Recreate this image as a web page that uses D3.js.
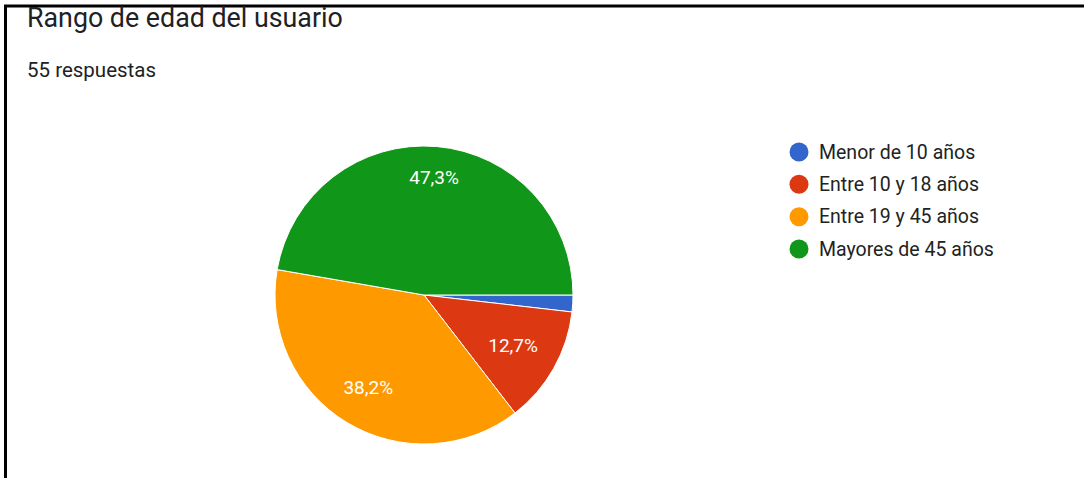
<!DOCTYPE html>
<html>
<head>
<meta charset="utf-8">
<script src="https://cdn.jsdelivr.net/npm/d3@7"></script>
<style>
  html, body { margin: 0; padding: 0; background: #fff; }
  svg { display: block; }
  text { font-family: Roboto, Arial, sans-serif; }
</style>
</head>
<body>
<svg id="chart" width="1084" height="478"></svg>
<script>
const title = "Rango de edad del usuario";
const subtitle = "55 respuestas";
const categories = ["Menor de 10 años", "Entre 10 y 18 años", "Entre 19 y 45 años", "Mayores de 45 años"];
const counts = [1, 7, 21, 26];
const colors = ["#3366cc", "#dc3912", "#ff9900", "#109618"];

const svg = d3.select("#chart");
const W = 1084, H = 478;
svg.append("rect").attr("width", W).attr("height", H).attr("fill", "#fff");

// frame (top + left black lines)
svg.append("line").attr("x1", 4).attr("x2", W).attr("y1", 6).attr("y2", 6)
  .attr("stroke", "#000").attr("stroke-width", 3);
svg.append("line").attr("x1", 5.5).attr("x2", 5.5).attr("y1", 5).attr("y2", H)
  .attr("stroke", "#000").attr("stroke-width", 3);

svg.append("text").attr("x", 27).attr("y", 27).attr("font-size", 26.8)
  .attr("fill", "#202124").text(title);
svg.append("text").attr("x", 27).attr("y", 77).attr("font-size", 20.5)
  .attr("fill", "#202124").text(subtitle);

const cx = 424, cy = 295, R = 149;
const total = d3.sum(counts);
const pie = d3.pie().sort(null).startAngle(Math.PI / 2).endAngle(Math.PI / 2 + 2 * Math.PI);
const arcs = pie(counts);
const arc = d3.arc().innerRadius(0).outerRadius(R);
const color = d3.scaleOrdinal().domain(categories).range(colors);

const g = svg.append("g").attr("transform", `translate(${cx},${cy})`);
g.selectAll("path").data(arcs).join("path")
  .attr("d", arc)
  .attr("fill", (d, i) => color(categories[i]))
  .attr("stroke", "#fff").attr("stroke-width", 1);

const fmt = v => (Math.round(v / total * 1000) / 10).toFixed(1).replace(".", ",") + "%";
const outerEdge = R * 0.86;
arcs.forEach((d, i) => {
  const pct = d.value / total;
  if (pct < 0.05) return;
  const t = g.append("text").attr("text-anchor", "middle").attr("dominant-baseline", "central")
    .attr("font-size", 19).attr("fill", "#fff").text(fmt(d.value));
  const bb = t.node().getBBox();
  const a = (d.startAngle + d.endAngle) / 2;
  const ux = Math.sin(a), uy = -Math.cos(a);
  const ext = bb.width / 2 * Math.abs(ux) + 8.5 * Math.abs(uy);
  const dist = outerEdge - ext;
  t.attr("x", ux * dist).attr("y", uy * dist);
});

const leg = svg.append("g");
const ly = d3.scalePoint().domain(categories).range([152, 249]);
categories.forEach((c, i) => {
  leg.append("circle").attr("cx", 799).attr("cy", ly(c)).attr("r", 9.5).attr("fill", color(c));
  leg.append("text").attr("x", 819).attr("y", ly(c)).attr("dominant-baseline", "central")
    .attr("font-size", 19.5).attr("fill", "#222").text(c);
});
</script>
</body>
</html>
